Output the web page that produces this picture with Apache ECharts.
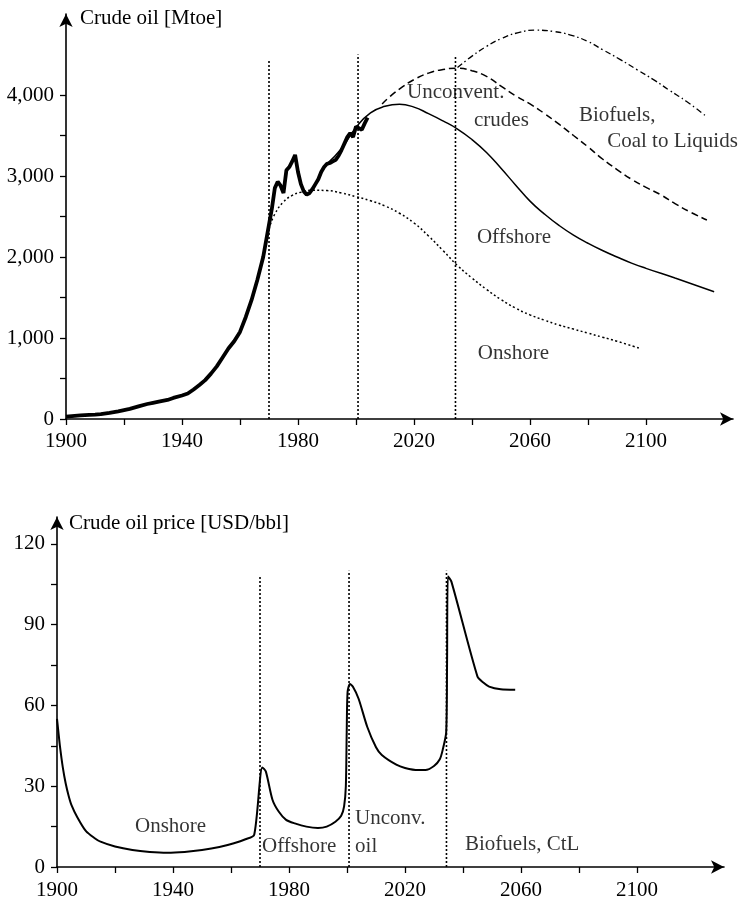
<!DOCTYPE html>
<html>
<head>
<meta charset="utf-8">
<script src="https://cdn.jsdelivr.net/npm/echarts@6/dist/echarts.min.js"></script>
<style>
html,body{margin:0;padding:0;background:#fff;}
#chart{width:743px;height:905px;}
</style>
</head>
<body>
<div id="chart"></div>
<script>
// ---------- data (top: crude oil production, Mtoe) ----------
const history = [[1900,28],[1902,35],[1905,45],[1908,52],[1910,55],[1912,60],[1915,75],[1918,95],[1920,110],[1922,125],[1925,155],[1928,185],[1930,200],[1932,215],[1935,235],[1937,260],[1940,290],[1942,315],[1944,365],[1946,420],[1948,480],[1950,560],[1952,650],[1954,760],[1956,870],[1958,960],[1960,1075],[1962,1260],[1964,1470],[1966,1720],[1968,2000],[1969,2200],[1970,2400],[1971,2600],[1972,2850],[1973,2930],[1974,2880],[1975,2790],[1976,3070],[1977,3110],[1978,3180],[1979,3260],[1980,3050],[1981,2900],[1982,2810],[1983,2770],[1984,2790],[1985,2840],[1986,2900],[1987,2960],[1988,3050],[1989,3110],[1990,3150],[1991,3160],[1992,3180],[1993,3200],[1994,3250],[1995,3320],[1996,3400],[1997,3480],[1998,3530],[1999,3480],[2000,3610],[2001,3590],[2002,3570],[2003,3650],[2004,3720]];
const offshore = [[1990,3150],[1995,3340],[2000,3600],[2005,3780],[2010,3860],[2015,3885],[2020,3850],[2025,3770],[2030,3680],[2035,3580],[2040,3450],[2045,3290],[2050,3095],[2055,2890],[2060,2690],[2065,2530],[2070,2390],[2075,2270],[2080,2170],[2085,2080],[2090,2000],[2095,1925],[2100,1860],[2110,1740],[2123.5,1572]];
const onshore = [[1970,2350],[1972,2530],[1975,2680],[1978,2760],[1981,2800],[1985,2825],[1990,2820],[1995,2790],[2000,2745],[2005,2695],[2010,2630],[2015,2540],[2020,2420],[2025,2260],[2030,2080],[2035,1895],[2040,1740],[2045,1600],[2050,1475],[2055,1370],[2060,1285],[2065,1220],[2070,1160],[2075,1110],[2080,1060],[2085,1010],[2090,960],[2098,870]];
const unconventional = [[2009,3890],[2012,3990],[2016,4100],[2020,4190],[2025,4270],[2030,4315],[2035,4330],[2040,4300],[2045,4230],[2050,4110],[2055,3990],[2060,3890],[2065,3770],[2070,3640],[2075,3500],[2080,3360],[2085,3210],[2090,3080],[2095,2960],[2100,2860],[2105,2770],[2110,2660],[2115,2560],[2121,2457]];
const biofuelsCtl = [[2035,4340],[2040,4480],[2045,4600],[2050,4695],[2056,4770],[2062,4800],[2068,4785],[2074,4740],[2080,4660],[2085,4560],[2091,4440],[2097,4310],[2103,4180],[2108,4060],[2114,3920],[2121,3730]];
const phaseYears = [1970, 2000.7, 2034.3];
const topPhaseHeights = [4430, 4500, 4480];
const topLabels = [[2017.6,4025,'Unconvent.'],[2040.7,3691,'crudes'],[2076.9,3753,'Biofuels,'],[2086.6,3420,'Coal to Liquids'],[2041.7,2247,'Offshore'],[2042,815,'Onshore']];

// ---------- data (bottom: crude oil price, USD/bbl) ----------
const price = [[1900,55],[1900.5,50],[1901,45],[1902,37],[1903,31],[1904,26.5],[1905,23],[1907,18.5],[1910,13.3],[1913,10.7],[1915,9.4],[1920,7.6],[1926,6.3],[1932,5.6],[1938,5.3],[1944,5.6],[1950,6.3],[1956,7.4],[1961,8.8],[1965,10.3],[1968,12],[1970.8,37],[1972,35.5],[1974.3,25],[1976.5,20.5],[1979,17.5],[1982,16.2],[1986,15],[1990,14.5],[1993,15],[1996,16.8],[1998,19],[1999,22.5],[1999.6,30],[1999.9,50],[2000.2,65],[2001,68],[2002,67],[2004,62.5],[2007,52],[2010,44.5],[2012,41.6],[2017,38],[2020,36.8],[2024.5,36],[2027,36],[2030,37.5],[2032,40],[2033,43.5],[2034.2,50],[2034.5,75],[2034.8,108],[2036,106],[2045,70.7],[2047,68.5],[2049,67],[2053,66],[2058,65.8]];
const bottomPhaseHeights = [108, 110, 110];
const bottomLabels = [[1926.9,14.9,'Onshore'],[1970.7,7.8,'Offshore'],[2002.8,18.2,'Unconv.'],[2002.8,7.8,'oil'],[2040.7,8.2,'Biofuels, CtL']];

// ---------- ticks ----------
const yearTicks = [1900,1920,1940,1960,1980,2000,2020,2040,2060,2080,2100];
const yearLabels = [1900,1940,1980,2020,2060,2100];
const topYTicks = [0,500,1000,1500,2000,2500,3000,3500,4000];
const topYLabels = [0,1000,2000,3000,4000];
const botYTicks = [0,15,30,45,60,75,90,105,120];
const botYLabels = [0,30,60,90,120];

const FONT = 'Liberation Serif';
const FS = 21;
const axisLine = {show:true, lineStyle:{color:'#000', width:1.6}, symbol:['none','arrow'], symbolSize:[10,13]};

function xAxis(gi, labelMargin){
  return {type:'value', gridIndex:gi, min:1900, max:2130,
    axisLine, splitLine:{show:false},
    axisTick:{show:true, customValues:yearTicks, length:6, lineStyle:{color:'#000', width:1.3}},
    axisLabel:{show:true, customValues:yearLabels, color:'#000', fontFamily:FONT, fontSize:FS, margin:labelMargin, formatter:v=>String(v)}};
}
function yAxis(gi, max, ticks, labels, fmt, margin){
  return {type:'value', gridIndex:gi, min:0, max:max,
    axisLine, splitLine:{show:false},
    axisTick:{show:true, customValues:ticks, length:6, lineStyle:{color:'#000', width:1.3}},
    axisLabel:{show:true, customValues:labels, color:'#000', fontFamily:FONT, fontSize:FS, margin:margin, formatter:fmt}};
}
function lineSeries(data, gi, width, type, smooth){
  return {type:'line', xAxisIndex:gi, yAxisIndex:gi, data, symbol:'none', smooth:smooth, silent:true,
    lineStyle:{color:'#000', width, type}};
}
function labelSeries(data, gi){
  return {type:'scatter', xAxisIndex:gi, yAxisIndex:gi, data, symbolSize:0, silent:true,
    label:{show:true, position:'right', distance:0, formatter:p=>p.data[2], color:'#000', fontFamily:FONT, fontSize:FS}};
}

const series = [];
phaseYears.forEach((yr,i)=>{
  series.push(lineSeries([[yr,0],[yr,topPhaseHeights[i]]], 0, 1.6, [2,2], false));
  series.push(lineSeries([[yr,0],[yr,bottomPhaseHeights[i]]], 1, 1.6, [2,2], false));
});
series.push(lineSeries(onshore, 0, 1.5, [2,2.5], true));
series.push(lineSeries(unconventional, 0, 1.5, [7,4], true));
series.push(lineSeries(biofuelsCtl, 0, 1.3, [6,3,1.5,3], true));
series.push(lineSeries(offshore, 0, 1.5, 'solid', true));
series.push(lineSeries(history, 0, 3.8, 'solid', false));
series.push(lineSeries(price, 1, 2, 'solid', 0.25));
series.push(labelSeries(topLabels, 0));
series.push(labelSeries(bottomLabels, 1));

const option = {
  animation:false,
  backgroundColor:'#fff',
  title:[
    {text:'Crude oil [Mtoe]', left:80, top:8, padding:0, textStyle:{fontFamily:FONT, fontSize:FS, fontWeight:'normal', color:'#000'}},
    {text:'Crude oil price [USD/bbl]', left:69, top:513, padding:0, textStyle:{fontFamily:FONT, fontSize:FS, fontWeight:'normal', color:'#000'}}
  ],
  grid:[
    {left:66, top:14, width:667, height:405},
    {left:57, top:517, width:667, height:350}
  ],
  xAxis:[xAxis(0,12), xAxis(1,13)],
  yAxis:[
    yAxis(0, 5000, topYTicks, topYLabels, v=>Number(v).toLocaleString('en-US'), 12),
    yAxis(1, 130, botYTicks, botYLabels, v=>String(v), 12)
  ],
  series
};
const chart = echarts.init(document.getElementById('chart'), null, {renderer:'canvas'});
chart.setOption(option);
</script>
</body>
</html>
